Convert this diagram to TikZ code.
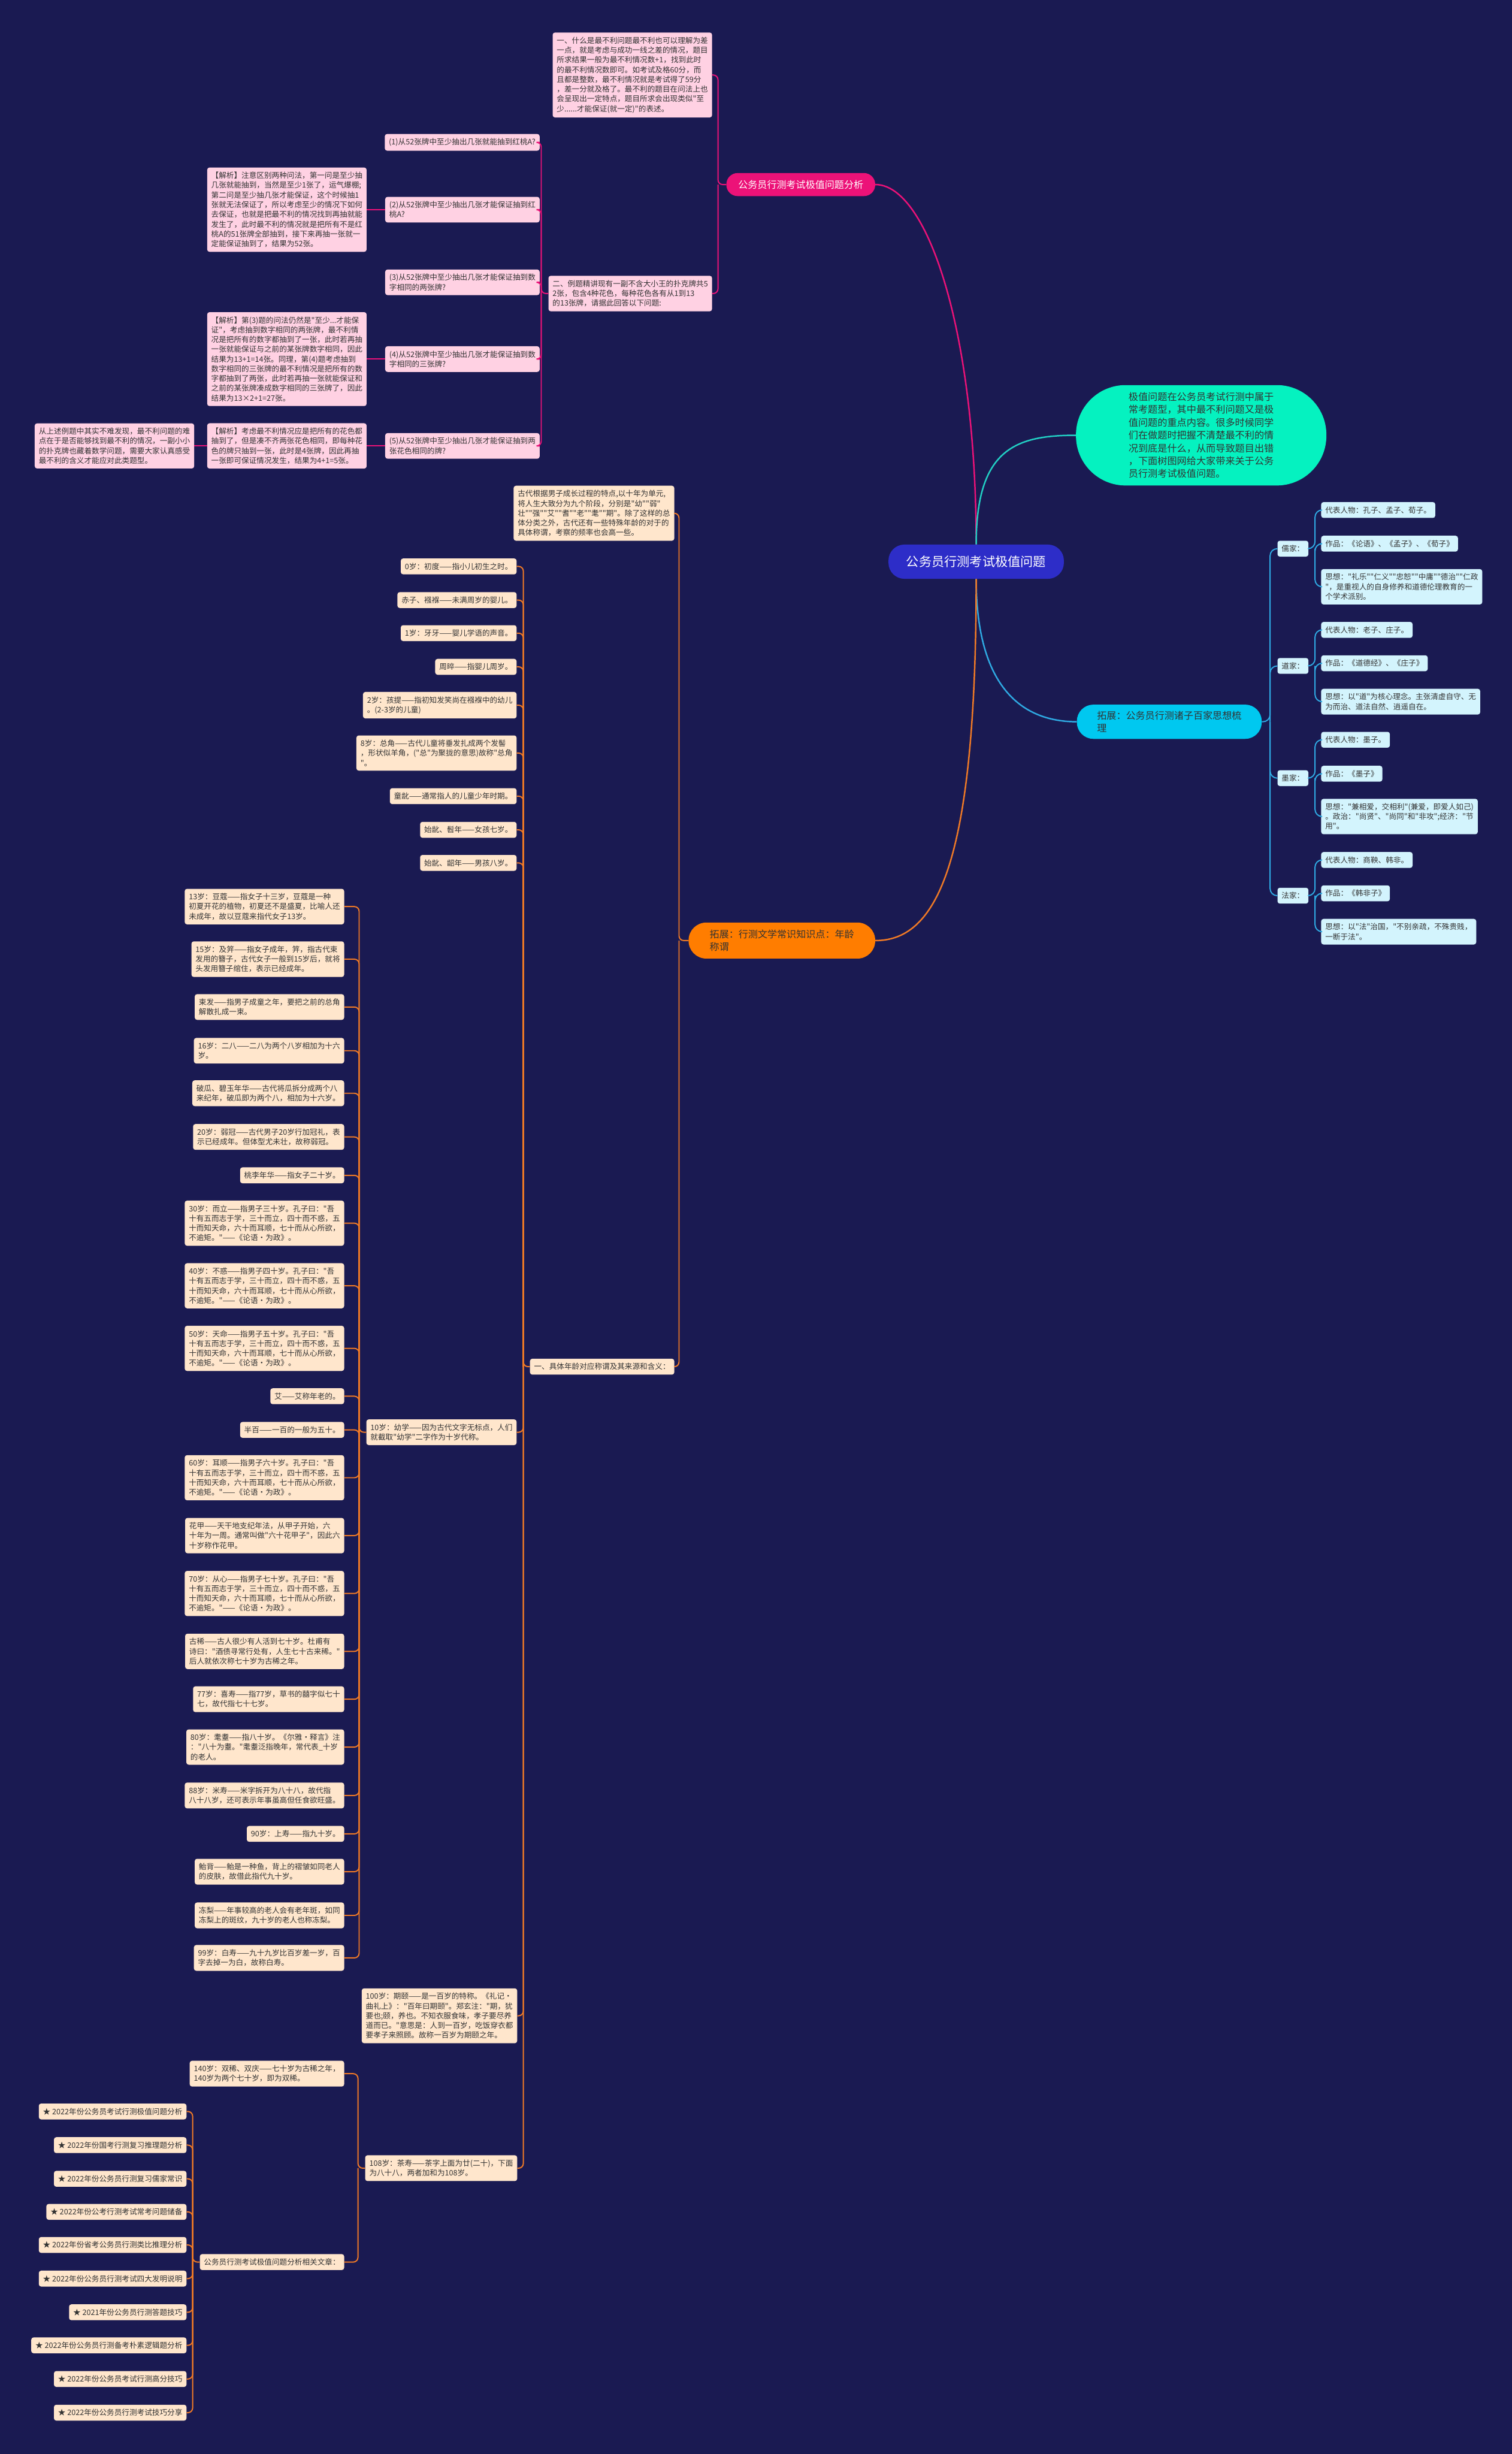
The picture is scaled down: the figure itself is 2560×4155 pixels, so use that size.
\documentclass[tikz,border=0pt]{standalone}
\usepackage{fontspec}
\newfontfamily\zhfont{Noto Sans CJK SC}
\usetikzlibrary{positioning}

\definecolor{beijing}{HTML}{1A1A52}
\definecolor{zhulan}{HTML}{2D2DC8}
\definecolor{fenhong}{HTML}{EC1278}
\definecolor{qianfen}{HTML}{FFD1E3}
\definecolor{qinglv}{HTML}{05F2C0}
\definecolor{qinglvxian}{HTML}{22CFC4}
\definecolor{tianlan}{HTML}{00C8F0}
\definecolor{tianlanxian}{HTML}{2FA9E2}
\definecolor{qianlan}{HTML}{D3F4FD}
\definecolor{cheng}{HTML}{FF7D00}
\definecolor{chengxian}{HTML}{F07A26}
\definecolor{qiancheng}{HTML}{FFE6CC}
\definecolor{shenzi}{HTML}{333333}

\begin{document}
\begin{tikzpicture}[x=1pt, y=-1pt,
        every node/.style={font=\zhfont\fontsize{12.8}{16.5}\selectfont, text=shenzi},
        zhuti/.style={
            rectangle, rounded corners=27pt, fill=zhulan, text=white,
            minimum width=297pt, minimum height=58pt, font=\zhfont\fontsize{21.5}{26}\selectfont
        },
        fenzhi/.style={
            rectangle, align=left, font=\zhfont\fontsize{16.3}{20.5}\selectfont
        },
        yezi/.style={
            rectangle, rounded corners=4pt, align=left, inner xsep=7pt, inner ysep=7.5pt
        },
        fenye/.style={yezi, fill=qianfen},
        lanye/.style={yezi, fill=qianlan},
        chengye/.style={yezi, fill=qiancheng},
        fenxian/.style={draw=fenhong, line width=2pt, rounded corners=8pt},
        lanxian/.style={draw=tianlanxian, line width=2pt, rounded corners=12pt},
        chengxian/.style={draw=chengxian, line width=2pt, rounded corners=8pt}
    ]

\path[use as bounding box, fill=beijing] (0,0) rectangle (2560,4155);

% --- 中心主题 ---
        \node[zhuti] (zhong) at (1653,951) {公务员行测考试极值问题};

% --- 四个分支 ---
        \node[fenzhi, fill=fenhong, text=white, minimum width=252pt, minimum height=39pt,
            rounded corners=19pt] (fenxi) at (1356,312.5) {公务员行测考试极值问题分析};
        \node[fenzhi, fill=qinglv, minimum width=424pt, minimum height=170pt,
            rounded corners=84pt, font=\zhfont\fontsize{16.4}{21.7}\selectfont] (gaishu) at (2034,737)
            {极值问题在公务员考试行测中属于\\常考题型，其中最不利问题又是极\\值问题的重点内容。很多时候同学\\们在做题时把握不清楚最不利的情\\况到底是什么，从而导致题目出错\\，下面树图网给大家带来关于公务\\员行测考试极值问题。};
        \node[fenzhi, fill=tianlan, minimum width=313pt, minimum height=58pt,
            rounded corners=28pt] (zhuzi) at (1980,1222) {拓展：公务员行测诸子百家思想梳\\理};
        \node[fenzhi, fill=cheng, minimum width=316pt, minimum height=61pt,
            rounded corners=30pt] (nianling) at (1324,1592.5) {拓展：行测文学常识知识点：年龄\\称谓};

        \draw[fenxian, line width=2.5pt] (zhong.north) .. controls (1653,560) and (1570,312) .. (fenxi.east);
        \draw[draw=qinglvxian, line width=2.5pt] (zhong.north) .. controls (1653,760) and (1720,737) .. (gaishu.west);
        \draw[lanxian, line width=2.5pt] (zhong.south) .. controls (1653,1150) and (1720,1222) .. (zhuzi.west);
        \draw[chengxian, line width=2.5pt] (zhong.south) .. controls (1653,1450) and (1590,1593) .. (nianling.east);

% --- 极值问题分析 ---
        \node[fenye, anchor=east] (dingyi) at (1206,127)
            {一、什么是最不利问题最不利也可以理解为差\\一点，就是考虑与成功一线之差的情况，题目\\所求结果一般为最不利情况数+1，找到此时\\的最不利情况数即可。如考试及格60分，而\\且都是整数，最不利情况就是考试得了59分\\，差一分就及格了。最不利的题目在问法上也\\会呈现出一定特点，题目所求会出现类似"至\\少......才能保证(就一定)"的表述。};
        \node[fenye, anchor=east] (lieti) at (1206,497)
            {二、例题精讲现有一副不含大小王的扑克牌共5\\2张，包含4种花色，每种花色各有从1到13\\的13张牌，请据此回答以下问题:};
        \node[fenye, anchor=east] (wen1) at (914,241) {(1)从52张牌中至少抽出几张就能抽到红桃A?};
        \node[fenye, anchor=east] (wen2) at (914,355) {(2)从52张牌中至少抽出几张才能保证抽到红\\桃A?};
        \node[fenye, anchor=east] (wen3) at (914,478) {(3)从52张牌中至少抽出几张才能保证抽到数\\字相同的两张牌?};
        \node[fenye, anchor=east] (wen4) at (914,608) {(4)从52张牌中至少抽出几张才能保证抽到数\\字相同的三张牌?};
        \node[fenye, anchor=east] (wen5) at (914,755) {(5)从52张牌中至少抽出几张才能保证抽到两\\张花色相同的牌?};
        \node[fenye, anchor=east] (jiexi2) at (621,355)
            {【解析】注意区别两种问法，第一问是至少抽\\几张就能抽到，当然是至少1张了，运气爆棚;\\第二问是至少抽几张才能保证，这个时候抽1\\张就无法保证了，所以考虑至少的情况下如何\\去保证，也就是把最不利的情况找到再抽就能\\发生了，此时最不利的情况就是把所有不是红\\桃A的51张牌全部抽到，接下来再抽一张就一\\定能保证抽到了，结果为52张。};
        \node[fenye, anchor=east] (jiexi4) at (621,608)
            {【解析】第(3)题的问法仍然是"至少...才能保\\证"，考虑抽到数字相同的两张牌，最不利情\\况是把所有的数字都抽到了一张，此时若再抽\\一张就能保证与之前的某张牌数字相同，因此\\结果为13+1=14张。同理，第(4)题考虑抽到\\数字相同的三张牌的最不利情况是把所有的数\\字都抽到了两张，此时若再抽一张就能保证和\\之前的某张牌凑成数字相同的三张牌了，因此\\结果为13×2+1=27张。};
        \node[fenye, anchor=east] (jiexi5) at (621,755)
            {【解析】考虑最不利情况应是把所有的花色都\\抽到了，但是凑不齐两张花色相同，即每种花\\色的牌只抽到一张，此时是4张牌，因此再抽\\一张即可保证情况发生，结果为4+1=5张。};
        \node[fenye, anchor=east] (zongjie) at (329,755)
            {从上述例题中其实不难发现，最不利问题的难\\点在于是否能够找到最不利的情况，一副小小\\的扑克牌也藏着数学问题，需要大家认真感受\\最不利的含义才能应对此类题型。};

        \draw[fenxian] (fenxi.west) -- ++(-14,0) coordinate (fj) |- (dingyi.east);
        \draw[fenxian] (fj) |- (lieti.east);
        \draw[fenxian] (lieti.west) -- ++(-12,0) coordinate (lj) |- (wen1.east);
        \draw[fenxian] (lj) |- (wen2.east);
        \draw[fenxian] (lj) |- (wen3.east);
        \draw[fenxian] (lj) |- (wen4.east);
        \draw[fenxian] (lj) |- (wen5.east);
        \draw[fenxian] (wen2.west) -- (jiexi2.east);
        \draw[fenxian] (wen4.west) -- (jiexi4.east);
        \draw[fenxian] (wen5.west) -- (jiexi5.east);
        \draw[fenxian] (jiexi5.west) -- (zongjie.east);

% --- 诸子百家 ---
        \node[lanye, anchor=west] (rujia) at (2163,929) {儒家：};
        \node[lanye, anchor=west] (daojia) at (2163,1127.5) {道家：};
        \node[lanye, anchor=west] (mojia) at (2163,1317.5) {墨家：};
        \node[lanye, anchor=west] (fajia) at (2163,1516.5) {法家：};

        \node[lanye, anchor=west] (ru1) at (2237,863.5) {代表人物：孔子、孟子、荀子。};
        \node[lanye, anchor=west] (ru2) at (2237,920.5) {作品：《论语》、《孟子》、《荀子》};
        \node[lanye, anchor=west] (ru3) at (2237,993.5) {思想："礼乐""仁义""忠恕""中庸""德治""仁政\\"，是重视人的自身修养和道德伦理教育的一\\个学术派别。};
        \node[lanye, anchor=west] (dao1) at (2237,1066.5) {代表人物：老子、庄子。};
        \node[lanye, anchor=west] (dao2) at (2237,1123) {作品：《道德经》、《庄子》};
        \node[lanye, anchor=west] (dao3) at (2237,1188) {思想：以"道"为核心理念。主张清虚自守、无\\为而治、道法自然、逍遥自在。};
        \node[lanye, anchor=west] (mo1) at (2237,1252.5) {代表人物：墨子。};
        \node[lanye, anchor=west] (mo2) at (2237,1310) {作品：《墨子》};
        \node[lanye, anchor=west] (mo3) at (2237,1382.5) {思想："兼相爱，交相利"(兼爱，即爱人如己)\\。政治："尚贤"、"尚同"和"非攻";经济："节\\用"。};
        \node[lanye, anchor=west] (fa1) at (2237,1456) {代表人物：商鞅、韩非。};
        \node[lanye, anchor=west] (fa2) at (2237,1512.5) {作品：《韩非子》};
        \node[lanye, anchor=west] (fa3) at (2237,1577.5) {思想：以"法"治国，"不别亲疏，不殊贵贱，\\一断于法"。};

        \draw[lanxian] (zhuzi.east) -- ++(14,0) coordinate (zj) |- (rujia.west);
        \draw[lanxian] (zj) |- (daojia.west);
        \draw[lanxian] (zj) |- (mojia.west);
        \draw[lanxian] (zj) |- (fajia.west);
        \draw[lanxian] (rujia.east) -- ++(11,0) coordinate (rj) |- (ru1.west);
        \draw[lanxian] (rj) |- (ru2.west);
        \draw[lanxian] (rj) |- (ru3.west);
        \draw[lanxian] (daojia.east) -- ++(11,0) coordinate (dj) |- (dao1.west);
        \draw[lanxian] (dj) |- (dao2.west);
        \draw[lanxian] (dj) |- (dao3.west);
        \draw[lanxian] (mojia.east) -- ++(11,0) coordinate (mj) |- (mo1.west);
        \draw[lanxian] (mj) |- (mo2.west);
        \draw[lanxian] (mj) |- (mo3.west);
        \draw[lanxian] (fajia.east) -- ++(11,0) coordinate (faj) |- (fa1.west);
        \draw[lanxian] (faj) |- (fa2.west);
        \draw[lanxian] (faj) |- (fa3.west);

% --- 年龄称谓 ---
        \node[chengye, anchor=east] (jieshao) at (1142,869)
            {古代根据男子成长过程的特点,以十年为单元,\\将人生大致分为九个阶段，分别是"幼""弱"\\壮""强""艾""耆""老""耄""期"。除了这样的总\\体分类之外，古代还有一些特殊年龄的对于的\\具体称谓，考察的频率也会高一些。};
        \node[chengye, anchor=east] (juti) at (1142,2314) {一、具体年龄对应称谓及其来源和含义：};

        \node[chengye, anchor=east] (chudu) at (875,959) {0岁：初度——指小儿初生之时。};
        \node[chengye, anchor=east] (chizi) at (875,1016) {赤子、襁褓——未满周岁的婴儿。};
        \node[chengye, anchor=east] (yaya) at (875,1072) {1岁：牙牙——婴儿学语的声音。};
        \node[chengye, anchor=east] (zhouzui) at (875,1129) {周晬——指婴儿周岁。};
        \node[chengye, anchor=east] (haiti) at (875,1194) {2岁：孩提——指初知发笑尚在襁褓中的幼儿\\。(2-3岁的儿童)};
        \node[chengye, anchor=east] (zongjiao) at (875,1275) {8岁：总角——古代儿童将垂发扎成两个发髻\\，形状似羊角，("总"为聚拢的意思)故称"总角\\"。};
        \node[chengye, anchor=east] (tongchen) at (875,1348) {童龀——通常指人的儿童少年时期。};
        \node[chengye, anchor=east] (tiaonian) at (875,1405) {始龀、髫年——女孩七岁。};
        \node[chengye, anchor=east] (shaonian) at (875,1461) {始龀、龆年——男孩八岁。};
        \node[chengye, anchor=east] (youxue) at (875,2425) {10岁：幼学——因为古代文字无标点，人们\\就截取"幼学"二字作为十岁代称。};
        \node[chengye, anchor=east] (qiyi) at (876,3413) {100岁：期颐——是一百岁的特称。《礼记·\\曲礼上》："百年曰期颐"。郑玄注："期，犹\\要也;颐，养也。不知衣服食味，孝子要尽养\\道而已。"意思是：人到一百岁，吃饭穿衣都\\要孝子来照顾。故称一百岁为期颐之年。};
        \node[chengye, anchor=east] (chashou) at (876,3671) {108岁：茶寿——茶字上面为廿(二十)，下面\\为八十八，两者加和为108岁。};

        \node[chengye, anchor=east] (doukou) at (583,1535) {13岁：豆蔻——指女子十三岁，豆蔻是一种\\初夏开花的植物，初夏还不是盛夏，比喻人还\\未成年，故以豆蔻来指代女子13岁。};
        \node[chengye, anchor=east] (jiji) at (583,1624) {15岁：及笄——指女子成年，笄，指古代束\\发用的簪子，古代女子一般到15岁后，就将\\头发用簪子绾住，表示已经成年。};
        \node[chengye, anchor=east] (shufa) at (583,1705) {束发——指男子成童之年，要把之前的总角\\解散扎成一束。};
        \node[chengye, anchor=east] (erba) at (583,1779) {16岁：二八——二八为两个八岁相加为十六\\岁。};
        \node[chengye, anchor=east] (pogua) at (583,1851) {破瓜、碧玉年华——古代将瓜拆分成两个八\\来纪年，破瓜即为两个八，相加为十六岁。};
        \node[chengye, anchor=east] (ruoguan) at (583,1925) {20岁：弱冠——古代男子20岁行加冠礼，表\\示已经成年。但体型尤未壮，故称弱冠。};
        \node[chengye, anchor=east] (taoli) at (583,1990) {桃李年华——指女子二十岁。};
        \node[chengye, anchor=east] (erli) at (583,2071) {30岁：而立——指男子三十岁。孔子曰："吾\\十有五而志于学，三十而立，四十而不惑，五\\十而知天命，六十而耳顺，七十而从心所欲，\\不逾矩。"——《论语·为政》。};
        \node[chengye, anchor=east] (buhuo) at (583,2177) {40岁：不惑——指男子四十岁。孔子曰："吾\\十有五而志于学，三十而立，四十而不惑，五\\十而知天命，六十而耳顺，七十而从心所欲，\\不逾矩。"——《论语·为政》。};
        \node[chengye, anchor=east] (tianming) at (583,2283) {50岁：天命——指男子五十岁。孔子曰："吾\\十有五而志于学，三十而立，四十而不惑，五\\十而知天命，六十而耳顺，七十而从心所欲，\\不逾矩。"——《论语·为政》。};
        \node[chengye, anchor=east] (ai) at (583,2364) {艾——艾称年老的。};
        \node[chengye, anchor=east] (banbai) at (583,2421) {半百——一百的一般为五十。};
        \node[chengye, anchor=east] (ershun) at (583,2502) {60岁：耳顺——指男子六十岁。孔子曰："吾\\十有五而志于学，三十而立，四十而不惑，五\\十而知天命，六十而耳顺，七十而从心所欲，\\不逾矩。"——《论语·为政》。};
        \node[chengye, anchor=east] (huajia) at (583,2600) {花甲——天干地支纪年法，从甲子开始，六\\十年为一周。通常叫做"六十花甲子"，因此六\\十岁称作花甲。};
        \node[chengye, anchor=east] (congxin) at (583,2698) {70岁：从心——指男子七十岁。孔子曰："吾\\十有五而志于学，三十而立，四十而不惑，五\\十而知天命，六十而耳顺，七十而从心所欲，\\不逾矩。"——《论语·为政》。};
        \node[chengye, anchor=east] (guxi) at (583,2796) {古稀——古人很少有人活到七十岁。杜甫有\\诗曰："酒债寻常行处有，人生七十古来稀。"\\后人就依次称七十岁为古稀之年。};
        \node[chengye, anchor=east] (xishou) at (583,2877) {77岁：喜寿——指77岁，草书的囍字似七十\\七，故代指七十七岁。};
        \node[chengye, anchor=east] (maodie) at (583,2958) {80岁：耄耋——指八十岁。《尔雅·释言》注\\："八十为耋。"耄耋泛指晚年，常代表\_十岁\\的老人。};
        \node[chengye, anchor=east] (mishou) at (583,3040) {88岁：米寿——米字拆开为八十八，故代指\\八十八岁，还可表示年事虽高但任食欲旺盛。};
        \node[chengye, anchor=east] (shangshou) at (583,3105) {90岁：上寿——指九十岁。};
        \node[chengye, anchor=east] (taibei) at (583,3169) {鲐背——鲐是一种鱼，背上的褶皱如同老人\\的皮肤，故借此指代九十岁。};
        \node[chengye, anchor=east] (dongli) at (583,3243) {冻梨——年事较高的老人会有老年斑，如同\\冻梨上的斑纹，九十岁的老人也称冻梨。};
        \node[chengye, anchor=east] (baishou) at (583,3315) {99岁：白寿——九十九岁比百岁差一岁，百\\字去掉一为白，故称白寿。};

        \node[chengye, anchor=east] (shuangxi) at (583,3511) {140岁：双稀、双庆——七十岁为古稀之年，\\140岁为两个七十岁，即为双稀。};
        \node[chengye, anchor=east] (wenzhang) at (583,3830) {公务员行测考试极值问题分析相关文章：};

        \node[chengye, anchor=east] (wz1) at (316,3575) {★ 2022年份公务员考试行测极值问题分析};
        \node[chengye, anchor=east] (wz2) at (316,3632) {★ 2022年份国考行测复习推理题分析};
        \node[chengye, anchor=east] (wz3) at (316,3689) {★ 2022年份公务员行测复习儒家常识};
        \node[chengye, anchor=east] (wz4) at (316,3745) {★ 2022年份公考行测考试常考问题储备};
        \node[chengye, anchor=east] (wz5) at (316,3801) {★ 2022年份省考公务员行测类比推理分析};
        \node[chengye, anchor=east] (wz6) at (316,3858) {★ 2022年份公务员行测考试四大发明说明};
        \node[chengye, anchor=east] (wz7) at (316,3915) {★ 2021年份公务员行测答题技巧};
        \node[chengye, anchor=east] (wz8) at (316,3971) {★ 2022年份公务员行测备考朴素逻辑题分析};
        \node[chengye, anchor=east] (wz9) at (316,4028) {★ 2022年份公务员考试行测高分技巧};
        \node[chengye, anchor=east] (wz10) at (316,4085) {★ 2022年份公务员行测考试技巧分享};

        \draw[chengxian] (nianling.west) -- ++(-16,0) coordinate (nj) |- (jieshao.east);
        \draw[chengxian] (nj) |- (juti.east);

        \draw[chengxian] (juti.west) -- ++(-11,0) coordinate (jj) |- (chudu.east);
        \draw[chengxian] (jj) |- (chizi.east);
        \draw[chengxian] (jj) |- (yaya.east);
        \draw[chengxian] (jj) |- (zhouzui.east);
        \draw[chengxian] (jj) |- (haiti.east);
        \draw[chengxian] (jj) |- (zongjiao.east);
        \draw[chengxian] (jj) |- (tongchen.east);
        \draw[chengxian] (jj) |- (tiaonian.east);
        \draw[chengxian] (jj) |- (shaonian.east);
        \draw[chengxian] (jj) |- (youxue.east);
        \draw[chengxian] (jj) |- (qiyi.east);
        \draw[chengxian] (jj) |- (chashou.east);

        \draw[chengxian] (youxue.west) -- ++(-12,0) coordinate (yj) |- (doukou.east);
        \draw[chengxian] (yj) |- (jiji.east);
        \draw[chengxian] (yj) |- (shufa.east);
        \draw[chengxian] (yj) |- (erba.east);
        \draw[chengxian] (yj) |- (pogua.east);
        \draw[chengxian] (yj) |- (ruoguan.east);
        \draw[chengxian] (yj) |- (taoli.east);
        \draw[chengxian] (yj) |- (erli.east);
        \draw[chengxian] (yj) |- (buhuo.east);
        \draw[chengxian] (yj) |- (tianming.east);
        \draw[chengxian] (yj) |- (ai.east);
        \draw[chengxian] (yj) |- (banbai.east);
        \draw[chengxian] (yj) |- (ershun.east);
        \draw[chengxian] (yj) |- (huajia.east);
        \draw[chengxian] (yj) |- (congxin.east);
        \draw[chengxian] (yj) |- (guxi.east);
        \draw[chengxian] (yj) |- (xishou.east);
        \draw[chengxian] (yj) |- (maodie.east);
        \draw[chengxian] (yj) |- (mishou.east);
        \draw[chengxian] (yj) |- (shangshou.east);
        \draw[chengxian] (yj) |- (taibei.east);
        \draw[chengxian] (yj) |- (dongli.east);
        \draw[chengxian] (yj) |- (baishou.east);

        \draw[chengxian] (chashou.west) -- ++(-12,0) coordinate (cj) |- (shuangxi.east);
        \draw[chengxian] (cj) |- (wenzhang.east);

        \draw[chengxian] (wenzhang.west) -- ++(-12,0) coordinate (wj) |- (wz1.east);
        \draw[chengxian] (wj) |- (wz2.east);
        \draw[chengxian] (wj) |- (wz3.east);
        \draw[chengxian] (wj) |- (wz4.east);
        \draw[chengxian] (wj) |- (wz5.east);
        \draw[chengxian] (wj) |- (wz6.east);
        \draw[chengxian] (wj) |- (wz7.east);
        \draw[chengxian] (wj) |- (wz8.east);
        \draw[chengxian] (wj) |- (wz9.east);
        \draw[chengxian] (wj) |- (wz10.east);
    \end{tikzpicture}
\end{document}
